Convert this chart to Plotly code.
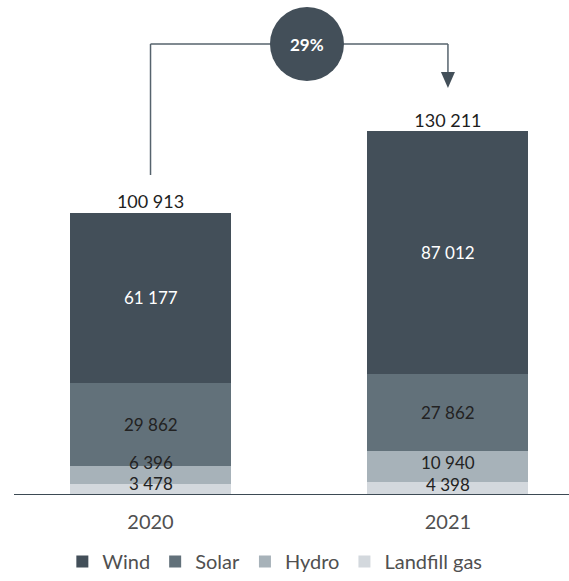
import plotly.graph_objects as go

years = ["2020", "2021"]
wind = [61177, 87012]
solar = [29862, 27862]
hydro = [6396, 10940]
landfill = [3478, 4398]
totals = [100913, 130211]
growth_label = "29%"

series_names = ["Landfill gas", "Hydro", "Solar", "Wind"]
series_vals = [landfill, hydro, solar, wind]
series_colors = ["#d3d8dd", "#a7b2b9", "#62717a", "#434f59"]
text_colors = ["#222222", "#222222", "#222222", "#ffffff"]

def fmt(v):
    return f"{v:,}".replace(",", " ")

W, H = 569, 581
ml, mr, mt, mb = 14, 0, 0, 87
plot_h = H - mt - mb
x_pos = [0, 1]
x_range = [-0.459, 1.407]
y_max = 177200
FONT = "Lato, 'Open Sans', sans-serif"
LABEL_SIZE = 17

ppu = plot_h / y_max  # pixels per data unit

fig = go.Figure()
for name, vals, col in zip(series_names, series_vals, series_colors):
    fig.add_trace(go.Bar(
        x=x_pos, y=vals, name=name, marker=dict(color=col, line=dict(width=0)),
        width=0.541, showlegend=True, hoverinfo="name+y",
    ))

# segment labels, placed at segment centres; nudged apart only where they would collide
annotations = []
for i, xv in enumerate(x_pos):
    base = 0
    centres = []
    for vals in series_vals:
        centres.append(base + vals[i] / 2)
        base += vals[i]
    min_gap = 22
    px = [c * ppu for c in centres]
    px[0] = max(px[0], 10)
    for k in range(1, len(px)):
        if px[k] - px[k - 1] < min_gap:
            px[k] = px[k - 1] + min_gap
    for k, (vals, tcol) in enumerate(zip(series_vals, text_colors)):
        annotations.append(dict(
            x=xv, y=centres[k], xref="x", yref="y", text=fmt(vals[i]),
            showarrow=False, yshift=px[k] - centres[k] * ppu,
            font=dict(size=LABEL_SIZE, color=tcol, family=FONT),
        ))

fig.add_trace(go.Scatter(
    x=x_pos, y=totals, mode="text", text=[fmt(v) for v in totals],
    textposition="top center", textfont=dict(size=18, color="#1e1e1e", family=FONT),
    showlegend=False, hoverinfo="skip", cliponaxis=False,
))

def py(px_from_top):
    return (H - mb - px_from_top) / ppu

line_col = "#56636d"
y_line = py(44)
y_left_start = py(175)
y_arrow_top = py(72)
y_arrow_tip = py(88)
x_mid = 0.526
dx = 7 / 297.5
shapes = [
    dict(type="line", xref="x", yref="y", x0=0, x1=0, y0=y_left_start, y1=y_line,
         line=dict(color=line_col, width=1.5)),
    dict(type="line", xref="x", yref="y", x0=0, x1=1, y0=y_line, y1=y_line,
         line=dict(color=line_col, width=1.5)),
    dict(type="line", xref="x", yref="y", x0=1, x1=1, y0=y_line, y1=y_arrow_top,
         line=dict(color=line_col, width=1.5)),
    dict(type="path", xref="x", yref="y",
         path=f"M {1-dx},{y_arrow_top} L {1+dx},{y_arrow_top} L 1,{y_arrow_tip} Z",
         fillcolor="#434f59", line=dict(width=0)),
    dict(type="circle", xref="x", yref="y", xsizemode="pixel", ysizemode="pixel",
         xanchor=x_mid, yanchor=y_line, x0=-37, x1=37, y0=-37, y1=37,
         fillcolor="#434f59", line=dict(width=0)),
]

annotations.append(dict(x=x_mid, y=y_line, xref="x", yref="y",
                        text=f"<b>{growth_label}</b>", showarrow=False,
                        font=dict(size=17, color="#ffffff", family=FONT)))

fig.update_layout(
    width=W, height=H, barmode="stack",
    margin=dict(l=ml, r=mr, t=mt, b=mb),
    paper_bgcolor="white", plot_bgcolor="white",
    font=dict(family=FONT),
    shapes=shapes, annotations=annotations,
    xaxis=dict(range=x_range, tickvals=x_pos, ticktext=years, showgrid=False,
               zeroline=False, showline=True, linecolor="#3d4a54", linewidth=1.3,
               ticks="", tickfont=dict(size=20, color="#505050", family=FONT),
               ticklabelstandoff=10, fixedrange=True, automargin=False),
    yaxis=dict(range=[0, y_max], visible=False, showgrid=False, zeroline=False,
               fixedrange=True),
    legend=dict(orientation="h", x=0.47, xanchor="center", y=-0.137, yanchor="middle",
                traceorder="reversed", font=dict(size=20, color="#505050", family=FONT),
                itemwidth=30, tracegroupgap=0),
    bargap=0,
)

fig.write_html("out.html", config={"displayModeBar": False},
               post_script="document.body.style.margin='0';document.body.style.overflow='hidden';")
